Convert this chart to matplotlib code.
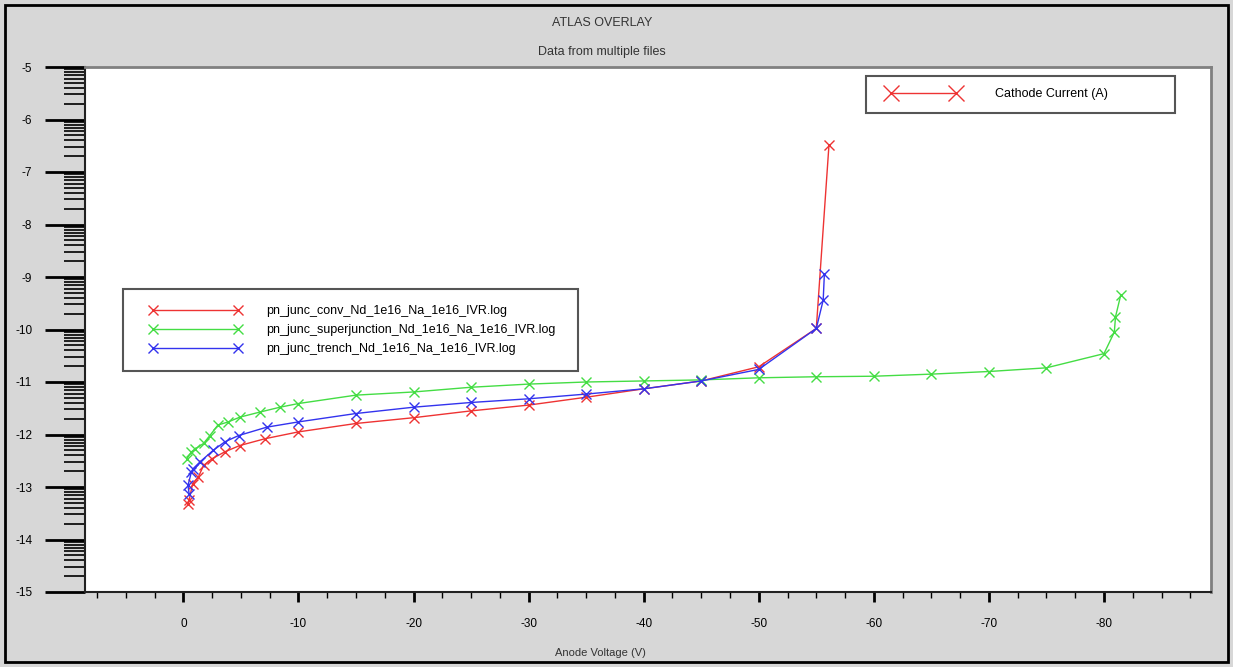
import numpy as np
import matplotlib.pyplot as plt
from matplotlib.lines import Line2D
from matplotlib.patches import Rectangle
from matplotlib.ticker import FixedLocator
from matplotlib.legend_handler import HandlerLine2D

plt.rcParams['font.family'] = ['Liberation Sans', 'DejaVu Sans']
plt.rcParams['axes.unicode_minus'] = False

conv_v = [-0.4, -0.5, -0.8, -1.3, -1.75, -2.5, -3.6, -4.9, -7.1, -10, -15, -20, -25,
          -30, -35, -40, -45, -50, -55, -56.1]
conv_i = [-13.32, -13.25, -12.94, -12.81, -12.59, -12.46, -12.33, -12.21, -12.08, -11.95,
          -11.79, -11.68, -11.55, -11.44, -11.29, -11.13, -10.98, -10.71, -9.98, -6.49]

sj_v = [-0.3, -0.7, -1.0, -1.75, -2.3, -3.0, -3.9, -4.9, -6.7, -8.4, -10, -15, -20, -25,
        -30, -35, -40, -45, -50, -55, -60, -65, -70, -75, -80, -80.9, -81.0, -81.45]
sj_i = [-12.46, -12.33, -12.28, -12.17, -12.02, -11.82, -11.76, -11.67, -11.57, -11.48,
        -11.41, -11.25, -11.19, -11.10, -11.04, -11.00, -10.98, -10.96, -10.92, -10.90,
        -10.89, -10.85, -10.80, -10.73, -10.46, -10.05, -9.76, -9.35]

trench_v = [-0.5, -0.4, -0.7, -0.85, -1.45, -2.6, -3.6, -4.8, -7.25, -10, -15, -20, -25,
            -30, -35, -40, -45, -50, -55, -55.6, -55.7]
trench_i = [-13.13, -12.97, -12.71, -12.65, -12.52, -12.30, -12.14, -12.02, -11.86, -11.76,
            -11.60, -11.48, -11.39, -11.32, -11.23, -11.13, -10.98, -10.76, -9.98, -9.44, -8.95]

labels = ['pn_junc_conv_Nd_1e16_Na_1e16_IVR.log',
          'pn_junc_superjunction_Nd_1e16_Na_1e16_IVR.log',
          'pn_junc_trench_Nd_1e16_Na_1e16_IVR.log']
colors = ['#ee3333', '#44dd44', '#3333ee']

x_major = [0, -10, -20, -30, -40, -50, -60, -70, -80]
y_major = list(range(-15, -4))

W, H = 1233, 667
fig = plt.figure(figsize=(W / 100, H / 100), dpi=100, facecolor='#d7d7d7')
ax = fig.add_axes([85 / W, 1 - 592 / H, (1211 - 85) / W, (592 - 67) / H])

for v, i, c, lab in zip([conv_v, sj_v, trench_v], [conv_i, sj_i, trench_i], colors, labels):
    ax.plot(v, i, color=c, lw=1, marker='x', ms=6.5, mew=1, label=lab)

ax.set_xlim(8.55, -89.3)
ax.set_ylim(-15, -5)

ax.set_xticks(x_major)
ax.xaxis.set_minor_locator(FixedLocator(np.arange(7.5, -90, -2.5)))
ax.set_yticks(y_major)
# log-style minor ticks within each decade
y_minor = [n + np.log10(k) for n in range(-15, -5) for k in range(2, 10)]
ax.yaxis.set_minor_locator(FixedLocator(y_minor))

ax.tick_params(axis='y', which='major', length=29, width=2, pad=9, labelsize=8.5)
ax.tick_params(axis='y', which='minor', length=15, width=1.2)
ax.tick_params(axis='x', which='major', length=7.5, width=2, pad=11, labelsize=8.5)
ax.tick_params(axis='x', which='minor', length=4, width=1)

for s in ['left', 'bottom']:
    ax.spines[s].set_linewidth(1.5)
    ax.spines[s].set_color('#222222')
for s in ['top', 'right']:
    ax.spines[s].set_linewidth(2)
    ax.spines[s].set_color('#808080')

fig.text(602 / W, 1 - 23 / H, 'ATLAS OVERLAY', ha='center', va='center', fontsize=9, color='#333333')
fig.text(602 / W, 1 - 52 / H, 'Data from multiple files', ha='center', va='center', fontsize=9,
         color='#333333')
fig.text(600 / W, 1 - 653 / H, 'Anode Voltage (V)', ha='center', va='center', fontsize=8,
         color='#333333')

leg = ax.legend(loc='upper left', bbox_to_anchor=(123 / W, 1 - 289 / H, (578 - 123) / W, 0),
                bbox_transform=fig.transFigure, mode='expand', borderaxespad=0,
                fancybox=False, framealpha=1, edgecolor='#555555', fontsize=9, numpoints=2,
                handlelength=8.2, handletextpad=1.95, borderpad=1.3, labelspacing=0.55,
                handler_map={Line2D: HandlerLine2D(numpoints=2, xpad=0.8)})
leg.get_frame().set_linewidth(1.5)
ax.add_artist(leg)

proxy = Line2D([], [], color='#ee3333', lw=1, marker='x', ms=12, mew=1)
leg2 = ax.legend([proxy], ['Cathode Current (A)'], loc='upper left',
                 bbox_to_anchor=(866 / W, 1 - 76 / H, (1175 - 866) / W, 0),
                 bbox_transform=fig.transFigure, mode='expand', borderaxespad=0,
                 fancybox=False, framealpha=1, edgecolor='#555555', fontsize=9, numpoints=2,
                 handlelength=6.5, handletextpad=2.8, borderpad=1.0,
                 handler_map={Line2D: HandlerLine2D(numpoints=2, xpad=0.7)})
leg2.get_frame().set_linewidth(1.5)

fig.patches.append(Rectangle((5 / W, 5 / H), (1228 - 5) / W, (662 - 5) / H, transform=fig.transFigure,
                             fill=False, edgecolor='black', lw=2))

fig.savefig('out.png', dpi=100, facecolor=fig.get_facecolor())
